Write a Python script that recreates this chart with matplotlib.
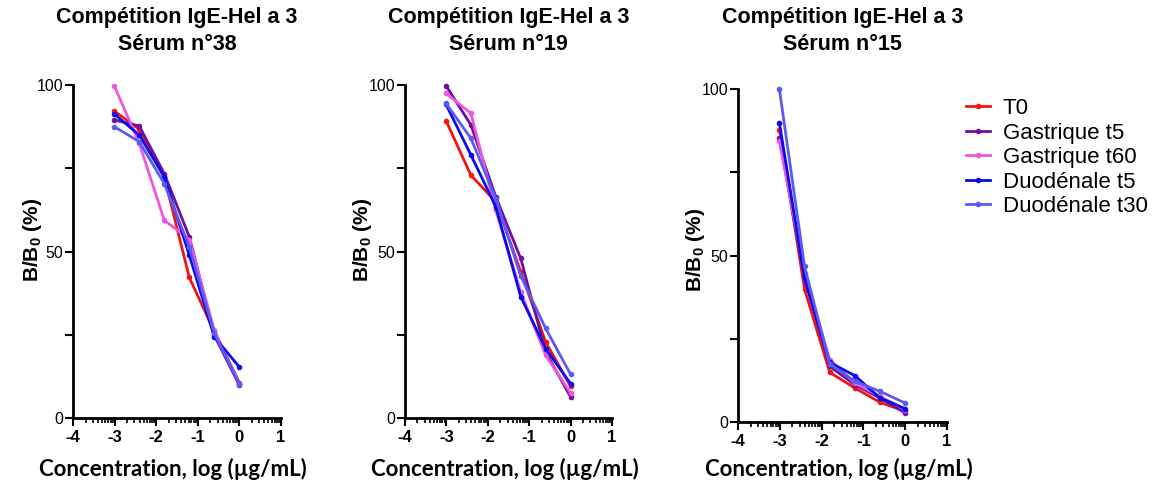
import numpy as np
import matplotlib
matplotlib.use("Agg")
import matplotlib.pyplot as plt
from matplotlib.ticker import FixedLocator

plt.rcParams["mathtext.fontset"] = "custom"
plt.rcParams["mathtext.rm"] = "Liberation Sans"
plt.rcParams["mathtext.bf"] = "Liberation Sans:bold"
plt.rcParams["mathtext.it"] = "Liberation Sans:italic"

# ---- data ----
log_conc = [-3.01, -2.408, -1.806, -1.204, -0.602, 0.0]
series_names = ["T0", "Gastrique t5", "Gastrique t60", "Duodénale t5", "Duodénale t30"]
series_colors = ["#F21414", "#7010A0", "#F055E0", "#0A0AF0", "#5A5AF5"]

serum38_T0 = [92.2, 86.7, 72.4, 42.2, 25.9, 10.6]
serum38_G5 = [89.5, 87.7, 73.4, 54.4, 24.8, 9.8]
serum38_G60 = [99.8, 82.5, 59.4, 53.6, 26.4, 10.3]
serum38_D5 = [91.3, 85.0, 72.4, 48.9, 24.3, 15.3]
serum38_D30 = [87.5, 83.0, 70.4, 51.4, 25.4, 10.3]

serum19_T0 = [89.3, 72.9, 64.9, 43.9, 22.8, 9.5]
serum19_G5 = [99.8, 88.0, 66.4, 47.9, 19.8, 6.3]
serum19_G60 = [97.5, 91.5, 62.4, 37.9, 18.8, 7.5]
serum19_D5 = [94.2, 79.0, 63.4, 36.4, 20.8, 10.3]
serum19_D30 = [94.5, 84.0, 65.9, 42.6, 26.9, 13.1]

serum15_T0 = [87.8, 39.9, 14.9, 10.2, 5.9, 3.2]
serum15_G5 = [85.3, 43.2, 16.7, 11.2, 7.2, 2.7]
serum15_G60 = [84.3, 44.7, 18.7, 11.7, 7.7, 3.7]
serum15_D5 = [89.8, 43.2, 17.9, 13.9, 7.2, 4.0]
serum15_D30 = [100.0, 46.7, 17.5, 12.2, 9.2, 5.7]

panel_titles = ["Compétition IgE-Hel a 3\nSérum n°38",
                "Compétition IgE-Hel a 3\nSérum n°19",
                "Compétition IgE-Hel a 3\nSérum n°15"]
panels = [
    [serum38_T0, serum38_G5, serum38_G60, serum38_D5, serum38_D30],
    [serum19_T0, serum19_G5, serum19_G60, serum19_D5, serum19_D30],
    [serum15_T0, serum15_G5, serum15_G60, serum15_D5, serum15_D30],
]
x_ticks = [-4, -3, -2, -1, 0, 1]
y_ticks = [0, 50, 100]
y_minor = [25, 75]

W, H = 1156, 488
fig = plt.figure(figsize=(W / 100, H / 100), dpi=100)

# axes boxes in pixels: left, right, top, bottom
boxes = [(73, 281, 85, 418), (405, 612, 85, 418), (738, 947, 89, 422)]
ylabel_pos = [(32, 240), (362, 240), (695, 250)]

x_minor = []
for d in range(-4, 1):
    for k in range(2, 10):
        x_minor.append(d + np.log10(k))

axes = []
for i, (l, r, t, b) in enumerate(boxes):
    ax = fig.add_axes([l / W, (H - b) / H, (r - l) / W, (b - t) / H])
    axes.append(ax)
    for j, vals in enumerate(panels[i]):
        ax.plot(log_conc, vals, color=series_colors[j], lw=2, marker="o",
                ms=3, clip_on=False, label=series_names[j])
    ax.set_xlim(-4, 1)
    ax.set_ylim(0, 100)
    for s in ["top", "right"]:
        ax.spines[s].set_visible(False)
    for s in ["left", "bottom"]:
        ax.spines[s].set_linewidth(2)
    ax.xaxis.set_major_locator(FixedLocator(x_ticks))
    ax.xaxis.set_minor_locator(FixedLocator(x_minor))
    ax.yaxis.set_major_locator(FixedLocator(y_ticks))
    ax.yaxis.set_minor_locator(FixedLocator(y_minor))
    ax.tick_params(axis="x", which="major", direction="out", length=6, width=1.5, pad=3)
    ax.tick_params(axis="x", which="minor", direction="out", length=3.5, width=1.2)
    ax.tick_params(axis="y", which="major", direction="out", length=6, width=1.5, pad=1)
    ax.tick_params(axis="y", which="minor", direction="out", length=6, width=1.5)
    ax.set_xticklabels([str(v) for v in x_ticks], fontsize=12, fontweight="bold",
                       family="Liberation Sans")
    ax.set_yticklabels([str(v) for v in y_ticks], fontsize=11.5,
                       family="Liberation Sans")
    cx = (l + r) / 2
    fig.text(cx / W, 1 - 31 / H, panel_titles[i], ha="center", va="center",
             fontsize=15.5, fontweight="bold", family="Liberation Sans",
             linespacing=1.4)
    yx, yy = ylabel_pos[i]
    fig.text(yx / W, 1 - yy / H, r"B/B$_\mathbf{0}$ (%)",
             rotation=90, ha="center", va="center", fontsize=15,
             fontweight="bold", family="Liberation Sans")
    fig.text((cx - 4) / W, 1 - 469 / H, "Concentration, log (µg/mL)",
             ha="center", va="center", fontsize=16, fontweight="bold",
             family="Lato")

handles, labels = axes[2].get_legend_handles_labels()
fig.legend(handles, labels, loc="upper left",
           bbox_to_anchor=(966 / W, 1 - 98 / H), frameon=False,
           prop={"family": "Liberation Sans", "size": 16},
           handlelength=1.1, handletextpad=0.55, labelspacing=0.16,
           borderaxespad=0, borderpad=0)

fig.savefig("out.png", dpi=100)
